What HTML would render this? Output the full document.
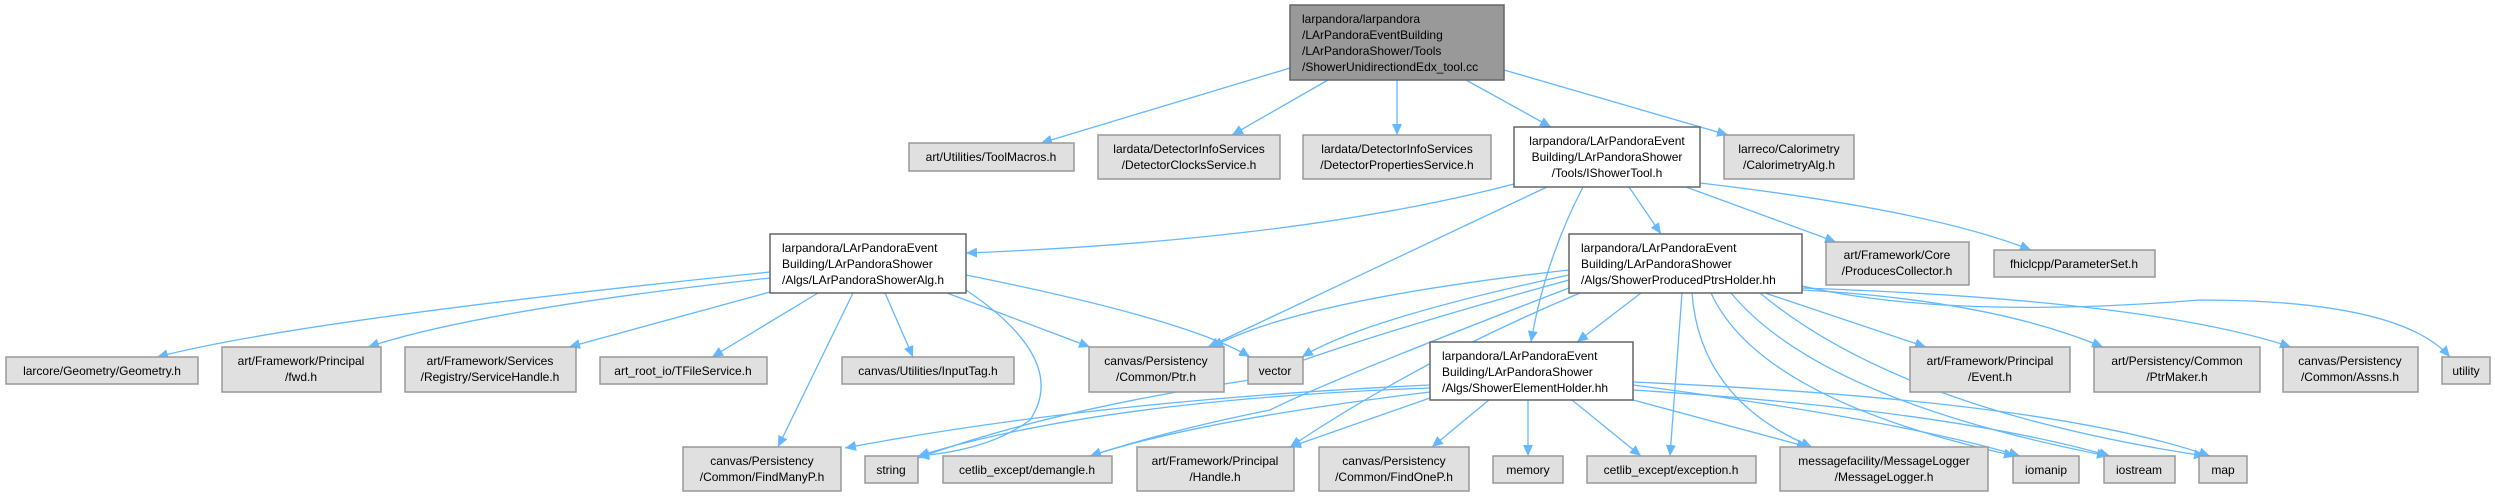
<!DOCTYPE html>
<html><head><meta charset="utf-8"><style>
html,body{margin:0;padding:0;background:#fff;}
svg{display:block;}
text{font-family:"Liberation Sans",Arial,sans-serif;font-size:12px;fill:#000;}
.g{fill:#e0e0e0;stroke:#999;stroke-width:1.5;}
.w{fill:#fff;stroke:#666;stroke-width:1.5;}
.r{fill:#999;stroke:#666;stroke-width:1.5;}
.e{fill:none;stroke:#63b8ff;stroke-width:1.3;}
</style></head><body>
<svg width="2495" height="496" viewBox="0 0 2495 496" xmlns="http://www.w3.org/2000/svg">
<defs><marker id="a" markerUnits="userSpaceOnUse" markerWidth="12" markerHeight="10" refX="11" refY="5" orient="auto"><path d="M0,0 L11,5 L0,10 Z" fill="#63b8ff"/></marker></defs>
<g marker-end="url(#a)">
<!-- root -->
<path class="e" d="M1290,68 L1041,143"/>
<path class="e" d="M1328,80 L1232,135"/>
<path class="e" d="M1397,80 L1397,135"/>
<path class="e" d="M1466,80 L1551,127"/>
<path class="e" d="M1504,70 L1728,135"/>
<!-- IShowerTool -->
<path class="e" d="M1514,184 Q1300,240 966,253"/>
<path class="e" d="M1547,187 L1208,347"/>
<path class="e" d="M1583,187 Q1545,260 1531,342"/>
<path class="e" d="M1629,187 L1661,234"/>
<path class="e" d="M1686,187 L1836,242"/>
<path class="e" d="M1700,183 Q1930,210 2031,250"/>
<!-- ShowerAlg -->
<path class="e" d="M770,272 Q300,320 157,357"/>
<path class="e" d="M770,278 Q480,310 368,347"/>
<path class="e" d="M770,292 L569,347"/>
<path class="e" d="M818,293 L712,357"/>
<path class="e" d="M885,293 L913,357"/>
<path class="e" d="M853,293 L778,447"/>
<path class="e" d="M966,290 Q1070,360 1030,420 Q990,450 918,456"/>
<path class="e" d="M947,293 L1090,347"/>
<path class="e" d="M966,275 Q1190,320 1250,357"/>
<!-- ProducedPtrsHolder -->
<path class="e" d="M1569,270 Q1300,300 1212,347"/>
<path class="e" d="M1569,275 Q1360,320 1302,357"/>
<path class="e" d="M1641,293 L1577,342"/>
<path class="e" d="M1569,280 Q1350,340 1250,380 Q1050,410 918,458"/>
<path class="e" d="M1569,288 Q1330,380 1270,410 Q1170,430 1090,456"/>
<path class="e" d="M1580,293 Q1420,360 1290,447"/>
<path class="e" d="M1682,293 L1670,456"/>
<path class="e" d="M1692,293 Q1700,400 1812,447"/>
<path class="e" d="M1711,293 Q1760,400 2015,456"/>
<path class="e" d="M1731,293 Q1820,400 2108,456"/>
<path class="e" d="M1760,293 Q1900,410 2205,456"/>
<path class="e" d="M1765,293 L1926,347"/>
<path class="e" d="M1802,290 Q1990,300 2103,347"/>
<path class="e" d="M1802,288 Q2150,300 2291,347"/>
<path class="e" d="M1802,286 Q1950,320 2200,300 Q2400,300 2450,357"/>
<!-- ElementHolder -->
<path class="e" d="M1430,385 Q1100,400 845,448"/>
<path class="e" d="M1430,388 Q1100,400 918,456"/>
<path class="e" d="M1430,392 Q1200,420 1090,456"/>
<path class="e" d="M1430,398 L1290,447"/>
<path class="e" d="M1489,400 L1432,447"/>
<path class="e" d="M1528,400 L1528,456"/>
<path class="e" d="M1572,400 L1641,456"/>
<path class="e" d="M1633,400 L1808,447"/>
<path class="e" d="M1633,385 Q1900,420 2020,456"/>
<path class="e" d="M1633,390 Q1950,410 2110,456"/>
<path class="e" d="M1633,382 Q2050,400 2210,456"/>
</g>

<!-- nodes -->
<rect class="r" x="1290" y="5" width="214" height="75"/>
<text x="1302" y="23">larpandora/larpandora</text>
<text x="1302" y="39">/LArPandoraEventBuilding</text>
<text x="1302" y="55">/LArPandoraShower/Tools</text>
<text x="1302" y="71">/ShowerUnidirectiondEdx_tool.cc</text>

<g text-anchor="middle">
<rect class="g" x="909" y="143" width="165" height="28"/><text x="991" y="161">art/Utilities/ToolMacros.h</text>
<rect class="g" x="1098" y="135" width="182" height="44"/><text x="1189" y="153">lardata/DetectorInfoServices</text><text x="1189" y="169">/DetectorClocksService.h</text>
<rect class="g" x="1303" y="135" width="188" height="44"/><text x="1397" y="153">lardata/DetectorInfoServices</text><text x="1397" y="169">/DetectorPropertiesService.h</text>
<rect class="w" x="1514" y="127" width="186" height="60"/><text x="1607" y="145">larpandora/LArPandoraEvent</text><text x="1607" y="161">Building/LArPandoraShower</text><text x="1607" y="177">/Tools/IShowerTool.h</text>
<rect class="g" x="1724" y="135" width="130" height="44"/><text x="1789" y="153">larreco/Calorimetry</text><text x="1789" y="169">/CalorimetryAlg.h</text>

<rect class="w" x="770" y="234" width="196" height="59"/>
<rect class="w" x="1569" y="234" width="233" height="59"/>
<rect class="g" x="1826" y="242" width="143" height="43"/><text x="1897" y="259">art/Framework/Core</text><text x="1897" y="275">/ProducesCollector.h</text>
<rect class="g" x="1994" y="250" width="161" height="27"/><text x="2074" y="268">fhiclcpp/ParameterSet.h</text>

<rect class="g" x="6" y="357" width="192" height="27"/><text x="102" y="375">larcore/Geometry/Geometry.h</text>
<rect class="g" x="222" y="347" width="159" height="45"/><text x="301" y="365">art/Framework/Principal</text><text x="301" y="381">/fwd.h</text>
<rect class="g" x="405" y="347" width="171" height="45"/><text x="490" y="365">art/Framework/Services</text><text x="490" y="381">/Registry/ServiceHandle.h</text>
<rect class="g" x="600" y="357" width="167" height="27"/><text x="683" y="375">art_root_io/TFileService.h</text>
<rect class="g" x="842" y="357" width="172" height="27"/><text x="928" y="375">canvas/Utilities/InputTag.h</text>
<rect class="g" x="1089" y="347" width="135" height="45"/><text x="1156" y="365">canvas/Persistency</text><text x="1156" y="381">/Common/Ptr.h</text>
<rect class="g" x="1248" y="357" width="55" height="27"/><text x="1275" y="375">vector</text>
<rect class="w" x="1430" y="342" width="203" height="58"/>
<rect class="g" x="1910" y="347" width="160" height="45"/><text x="1990" y="365">art/Framework/Principal</text><text x="1990" y="381">/Event.h</text>
<rect class="g" x="2094" y="347" width="166" height="45"/><text x="2177" y="365">art/Persistency/Common</text><text x="2177" y="381">/PtrMaker.h</text>
<rect class="g" x="2283" y="347" width="135" height="45"/><text x="2350" y="365">canvas/Persistency</text><text x="2350" y="381">/Common/Assns.h</text>
<rect class="g" x="2442" y="357" width="48" height="27"/><text x="2466" y="375">utility</text>

<rect class="g" x="683" y="447" width="158" height="44"/><text x="762" y="465">canvas/Persistency</text><text x="762" y="481">/Common/FindManyP.h</text>
<rect class="g" x="865" y="456" width="53" height="27"/><text x="891" y="474">string</text>
<rect class="g" x="943" y="456" width="169" height="27"/><text x="1027" y="474">cetlib_except/demangle.h</text>
<rect class="g" x="1137" y="447" width="157" height="44"/><text x="1215" y="465">art/Framework/Principal</text><text x="1215" y="481">/Handle.h</text>
<rect class="g" x="1319" y="447" width="150" height="44"/><text x="1394" y="465">canvas/Persistency</text><text x="1394" y="481">/Common/FindOneP.h</text>
<rect class="g" x="1493" y="456" width="70" height="27"/><text x="1528" y="474">memory</text>
<rect class="g" x="1587" y="456" width="169" height="27"/><text x="1671" y="474">cetlib_except/exception.h</text>
<rect class="g" x="1780" y="447" width="208" height="44"/><text x="1884" y="465">messagefacility/MessageLogger</text><text x="1884" y="481">/MessageLogger.h</text>
<rect class="g" x="2013" y="456" width="66" height="27"/><text x="2046" y="474">iomanip</text>
<rect class="g" x="2104" y="456" width="71" height="27"/><text x="2139" y="474">iostream</text>
<rect class="g" x="2199" y="456" width="48" height="27"/><text x="2223" y="474">map</text>
</g>
<text x="782" y="252">larpandora/LArPandoraEvent</text>
<text x="782" y="268">Building/LArPandoraShower</text>
<text x="782" y="284">/Algs/LArPandoraShowerAlg.h</text>
<text x="1581" y="252">larpandora/LArPandoraEvent</text>
<text x="1581" y="268">Building/LArPandoraShower</text>
<text x="1581" y="284">/Algs/ShowerProducedPtrsHolder.hh</text>
<text x="1442" y="360">larpandora/LArPandoraEvent</text>
<text x="1442" y="376">Building/LArPandoraShower</text>
<text x="1442" y="392">/Algs/ShowerElementHolder.hh</text>
</svg>
</body></html>
